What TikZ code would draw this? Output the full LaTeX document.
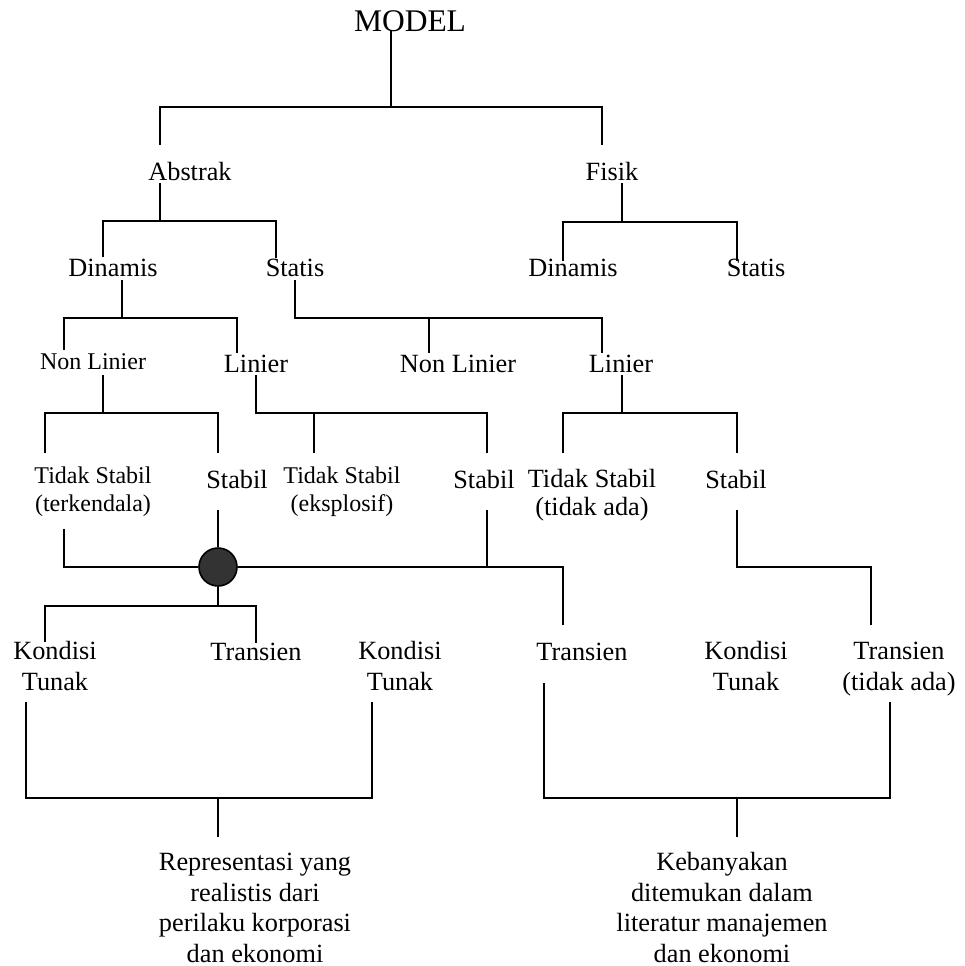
\documentclass[tikz,border=0pt]{standalone}
\usepackage{fontspec}
\setmainfont{Liberation Serif}
\begin{document}
\begin{tikzpicture}[x=1pt,y=-1pt,
  line width=2pt,
  txt/.style={anchor=base,inner sep=0pt,align=center,font=\fontsize{26.3}{30.5}\selectfont},
  txtsm/.style={txt,font=\fontsize{24}{27.5}\selectfont},
  txtbig/.style={txt,font=\fontsize{31.5}{36}\selectfont},
  hubstyle/.style={circle,draw,line width=1.6pt,fill=black!80,minimum size=38pt,inner sep=0pt}]
\useasboundingbox (0,0) rectangle (965,966);

% ---------- labels (multi-line labels sit on the baseline of their last line) ----------
\node[txtbig] (model) at (410,32) {MODEL};
\node[txt] (abstrak) at (190,180) {Abstrak};
\node[txt] (fisik) at (612,180) {Fisik};
\node[txt] (dinL) at (113,276) {Dinamis};
\node[txt] (statL) at (295,276) {Statis};
\node[txt] (dinR) at (573,276) {Dinamis};
\node[txt] (statR) at (756,276) {Statis};
\node[txtsm] (nlL) at (93,369) {Non Linier};
\node[txt] (linL) at (256,372) {Linier};
\node[txt] (nlR) at (458,372) {Non Linier};
\node[txt] (linR) at (621,372) {Linier};
\node[txtsm] (tsT) at (93,511) {Tidak Stabil\\(terkendala)};
\node[txt] (stab1) at (237,488) {Stabil};
\node[txtsm] (tsE) at (342,511) {Tidak Stabil\\(eksplosif)};
\node[txt] (stab2) at (484,488) {Stabil};
\node[txt,font=\fontsize{26.3}{28}\selectfont] (tsA) at (592,515) {Tidak Stabil\\(tidak ada)};
\node[txt] (stab3) at (736,488) {Stabil};
\node[txt] (kt1) at (55,690) {Kondisi\\Tunak};
\node[txt] (tr1) at (256,660) {Transien};
\node[txt] (kt2) at (400,690) {Kondisi\\Tunak};
\node[txt] (tr2) at (582,660) {Transien};
\node[txt] (kt3) at (746,690) {Kondisi\\Tunak};
\node[txt] (tr3) at (899,690) {Transien\\(tidak ada)};
\node[txt] (rep) at (255,962) {Representasi yang\\realistis dari\\perilaku korporasi\\dan ekonomi};
\node[txt] (keb) at (722,962) {Kebanyakan\\ditemukan dalam\\literatur manajemen\\dan ekonomi};
\node[hubstyle] (hub) at (218,567) {};

% ---------- stem ends and junctions ----------
\coordinate (model-out) at (391,30);   \coordinate (j-model) at (391,107);
\coordinate (abstrak-in) at (160,145); \coordinate (fisik-in) at (602,145);
\coordinate (abstrak-out) at (160,183); \coordinate (j-abstrak) at (160,221);
\coordinate (dinL-in) at (103,257);    \coordinate (statL-in) at (276,258);
\coordinate (fisik-out) at (622,183);  \coordinate (j-fisik) at (622,222);
\coordinate (dinR-in) at (563,261);    \coordinate (statR-in) at (737,261);
\coordinate (dinL-out) at (122,280);   \coordinate (j-dinL) at (122,318);
\coordinate (nlL-in) at (64,350);      \coordinate (linL-in) at (237,353);
\coordinate (statL-out) at (295,280);  \coordinate (j-statL) at (429,318);
\coordinate (nlR-in) at (429,353);     \coordinate (linR-in) at (602,353);
\coordinate (nlL-out) at (103,375);    \coordinate (j-nlL) at (103,413);
\coordinate (tsT-in) at (45,453);      \coordinate (stab1-in) at (218,453);
\coordinate (linL-out) at (256,375);   \coordinate (j-linL) at (314,413);
\coordinate (tsE-in) at (314,453);     \coordinate (stab2-in) at (487,453);
\coordinate (linR-out) at (622,375);   \coordinate (j-linR) at (622,413);
\coordinate (tsA-in) at (563,453);     \coordinate (stab3-in) at (737,453);
\coordinate (tsT-out) at (64,529);     \coordinate (stab1-out) at (218,510);
\coordinate (stab2-out) at (487,510);  \coordinate (j-stab2) at (487,567);
\coordinate (tr2-in) at (563,625);
\coordinate (stab3-out) at (737,510);  \coordinate (j-stab3) at (737,567);
\coordinate (tr3-in) at (871,625);
\coordinate (j-hub) at (218,606);
\coordinate (kt1-in) at (45,642);      \coordinate (tr1-in) at (256,643);
\coordinate (kt1-out) at (26,702);     \coordinate (kt2-out) at (372,702);
\coordinate (j-left) at (218,798);     \coordinate (rep-in) at (218,837);
\coordinate (tr2-out) at (544,683);    \coordinate (tr3-out) at (890,702);
\coordinate (j-right) at (737,798);    \coordinate (keb-in) at (737,837);

% ---------- connectors ----------
\draw (model-out) -- (j-model);
\draw (abstrak-in) |- (j-model) -| (fisik-in);
\draw (abstrak-out) -- (j-abstrak);
\draw (dinL-in) |- (j-abstrak) -| (statL-in);
\draw (fisik-out) -- (j-fisik);
\draw (dinR-in) |- (j-fisik) -| (statR-in);
\draw (dinL-out) -- (j-dinL);
\draw (nlL-in) |- (j-dinL) -| (linL-in);
\draw (statL-out) |- (j-statL) -| (linR-in);
\draw (j-statL) -- (nlR-in);
\draw (nlL-out) -- (j-nlL);
\draw (tsT-in) |- (j-nlL) -| (stab1-in);
\draw (linL-out) |- (j-linL) -| (stab2-in);
\draw (j-linL) -- (tsE-in);
\draw (linR-out) -- (j-linR);
\draw (tsA-in) |- (j-linR) -| (stab3-in);
\draw (tsT-out) |- (hub.west);
\draw (stab1-out) -- (hub.north);
\draw (hub.east) -| (tr2-in);
\draw (stab2-out) -- (j-stab2);
\draw (stab3-out) -- (j-stab3) -| (tr3-in);
\draw (hub.south) -- (j-hub);
\draw (kt1-in) |- (j-hub) -| (tr1-in);
\draw (kt1-out) |- (j-left) -| (kt2-out);
\draw (j-left) -- (rep-in);
\draw (tr2-out) |- (j-right) -| (tr3-out);
\draw (j-right) -- (keb-in);
\end{tikzpicture}
\end{document}
